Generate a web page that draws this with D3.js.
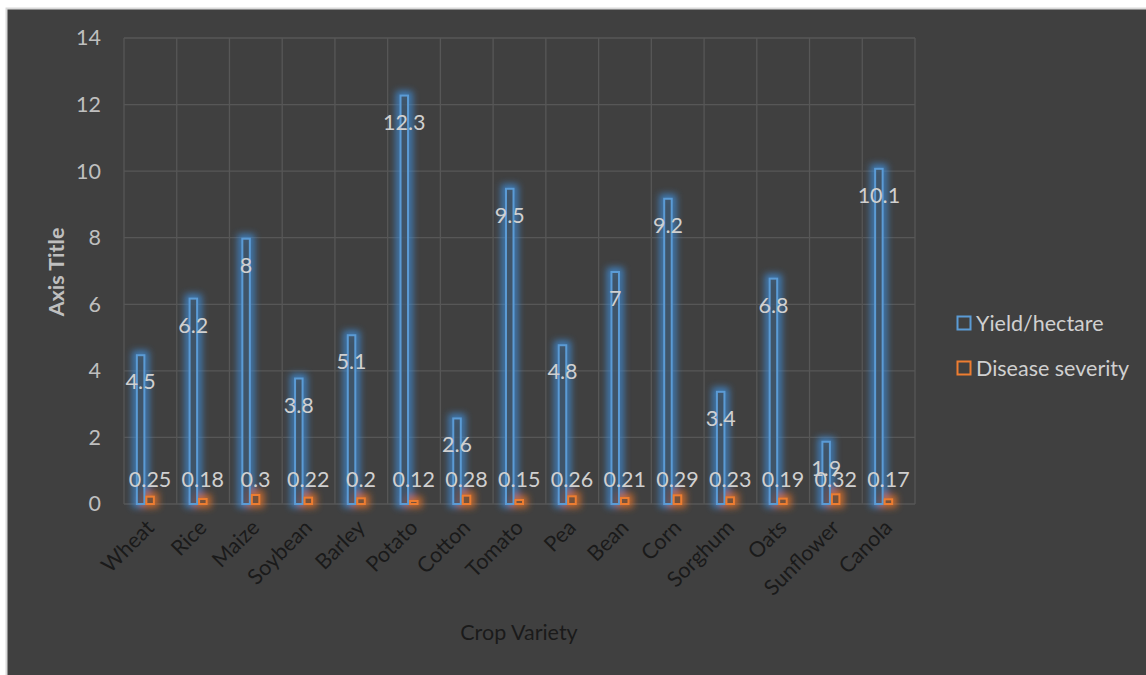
<!DOCTYPE html>
<html>
<head>
<meta charset="utf-8">
<script src="https://cdn.jsdelivr.net/npm/d3@7"></script>
<style>
  html, body { margin: 0; padding: 0; background: #ffffff; }
  svg { display: block; }
</style>
</head>
<body>
<script>
// Crop yield vs. disease severity
const categories = ["Wheat", "Rice", "Maize", "Soybean", "Barley", "Potato", "Cotton", "Tomato",
                    "Pea", "Bean", "Corn", "Sorghum", "Oats", "Sunflower", "Canola"];
const yieldPerHectare = [4.5, 6.2, 8, 3.8, 5.1, 12.3, 2.6, 9.5, 4.8, 7, 9.2, 3.4, 6.8, 1.9, 10.1];
const diseaseSeverity = [0.25, 0.18, 0.3, 0.22, 0.2, 0.12, 0.28, 0.15, 0.26, 0.21, 0.29, 0.23, 0.19, 0.32, 0.17];
const seriesNames = ["Yield/hectare", "Disease severity"];
const yTicks = [0, 2, 4, 6, 8, 10, 12, 14];

const W = 1146, H = 675;
const FONT = "Lato, 'Open Sans', sans-serif";
const FS = "21.5px";
const colors = ["#5b9bd5", "#ed7d31"];
const glowColors = ["#3f8fdc", "#e8762a"];

const svg = d3.select("body").append("svg").attr("width", W).attr("height", H);

// glow filter for the outlined bars
const defs = svg.append("defs");
const f = defs.append("filter").attr("id", "glow")
  .attr("x", "-150%").attr("y", "-50%").attr("width", "400%").attr("height", "200%");
f.append("feGaussianBlur").attr("in", "SourceGraphic").attr("stdDeviation", 3.6);

// chart frame
svg.append("rect").attr("x", 6.5).attr("y", 8.5).attr("width", W).attr("height", H)
  .attr("fill", "#404040").attr("stroke", "#d9d9d9").attr("stroke-width", 2);

const plot = { left: 124, right: 915, top: 38, bottom: 504 };

const y = d3.scaleLinear().domain([0, 14]).range([plot.bottom, plot.top]);
const x = d3.scaleBand().domain(categories).range([plot.left, plot.right]).padding(0);
const bw = 9.5;   // bar width
const shift = -5; // cluster offset inside each category
const x1 = d3.scaleBand().domain([0, 1])
  .range([-bw + shift, bw + shift]).padding(0);

// gridlines
const grid = svg.append("g");
grid.selectAll("line.h").data(yTicks).join("line")
  .attr("x1", plot.left).attr("x2", plot.right)
  .attr("y1", d => y(d)).attr("y2", d => y(d))
  .attr("stroke", "#575757").attr("stroke-width", 1.3);
grid.selectAll("line.v").data(d3.range(categories.length + 1)).join("line")
  .attr("x1", i => plot.left + i * x.step()).attr("x2", i => plot.left + i * x.step())
  .attr("y1", plot.top).attr("y2", plot.bottom)
  .attr("stroke", "#575757").attr("stroke-width", 1.3);

// y axis tick labels
const yAxis = d3.axisLeft(y).tickValues(yTicks).tickSize(0).tickPadding(0);
const yg = svg.append("g").attr("transform", `translate(101,0)`).call(yAxis);
yg.select(".domain").remove();
yg.selectAll("text").attr("fill", "#bfbfbf").style("font-family", FONT).style("font-size", FS);

// x axis category labels (rotated)
const xAxis = d3.axisBottom(x).tickSize(0).tickPadding(0);
const xg = svg.append("g").attr("transform", `translate(0,${plot.bottom})`).call(xAxis);
xg.select(".domain").remove();
xg.selectAll("text")
  .attr("fill", "#1a1a1a").style("font-family", FONT).style("font-size", FS)
  .attr("text-anchor", "end").attr("dy", null).attr("y", 0)
  .attr("transform", "translate(5,25) rotate(-45)");

const series = [yieldPerHectare, diseaseSeverity];
const data = [];
series.forEach((vals, s) => vals.forEach((v, i) => data.push({ s, i, v, c: categories[i] })));

const bx = d => x(d.c) + x.bandwidth() / 2 + x1(d.s);

// glow layer
svg.append("g").attr("filter", "url(#glow)").attr("opacity", 0.8)
  .selectAll("rect").data(data).join("rect")
  .attr("x", d => bx(d)).attr("width", x1.bandwidth())
  .attr("y", d => y(d.v)).attr("height", d => y(0) - y(d.v))
  .attr("fill", "none").attr("stroke", d => glowColors[d.s]).attr("stroke-width", 7);

// outlined bars
svg.append("g").selectAll("rect").data(data).join("rect")
  .attr("x", d => bx(d) + 1).attr("width", x1.bandwidth() - 2)
  .attr("y", d => y(d.v) + 1).attr("height", d => Math.max(0, y(0) - y(d.v) - 1))
  .attr("fill", "#404040").attr("fill-opacity", 0.55)
  .attr("stroke", d => colors[d.s]).attr("stroke-width", 2);

// data labels
svg.append("g").selectAll("text").data(data).join("text")
  .attr("x", d => bx(d) + x1.bandwidth() / 2)
  .attr("y", d => d.s === 0 ? y(d.v) + 35 : y(0) - 17)
  .attr("text-anchor", "middle")
  .attr("fill", "#d0d0d0").style("font-family", FONT).style("font-size", FS)
  .text(d => d.v);

// y axis title
svg.append("text")
  .attr("transform", "translate(64,272) rotate(-90)")
  .attr("text-anchor", "middle")
  .attr("fill", "#bfbfbf").style("font-family", FONT).style("font-size", FS)
  .style("font-weight", "bold").text("Axis Title");

// x axis title
svg.append("text").attr("x", 519).attr("y", 640).attr("text-anchor", "middle")
  .attr("fill", "#1a1a1a").style("font-family", FONT).style("font-size", FS)
  .text("Crop Variety");

// legend
const lg = svg.append("g").selectAll("g").data(seriesNames).join("g")
  .attr("transform", (d, i) => `translate(957,${316 + i * 45})`);
lg.append("rect").attr("x", 0.5).attr("y", 0.5).attr("width", 13).attr("height", 13)
  .attr("fill", "none").attr("stroke", (d, i) => colors[i]).attr("stroke-width", 2);
lg.append("text").attr("x", 19).attr("y", 15)
  .attr("fill", "#d0d0d0").style("font-family", FONT).style("font-size", FS)
  .text(d => d);
</script>
</body>
</html>
